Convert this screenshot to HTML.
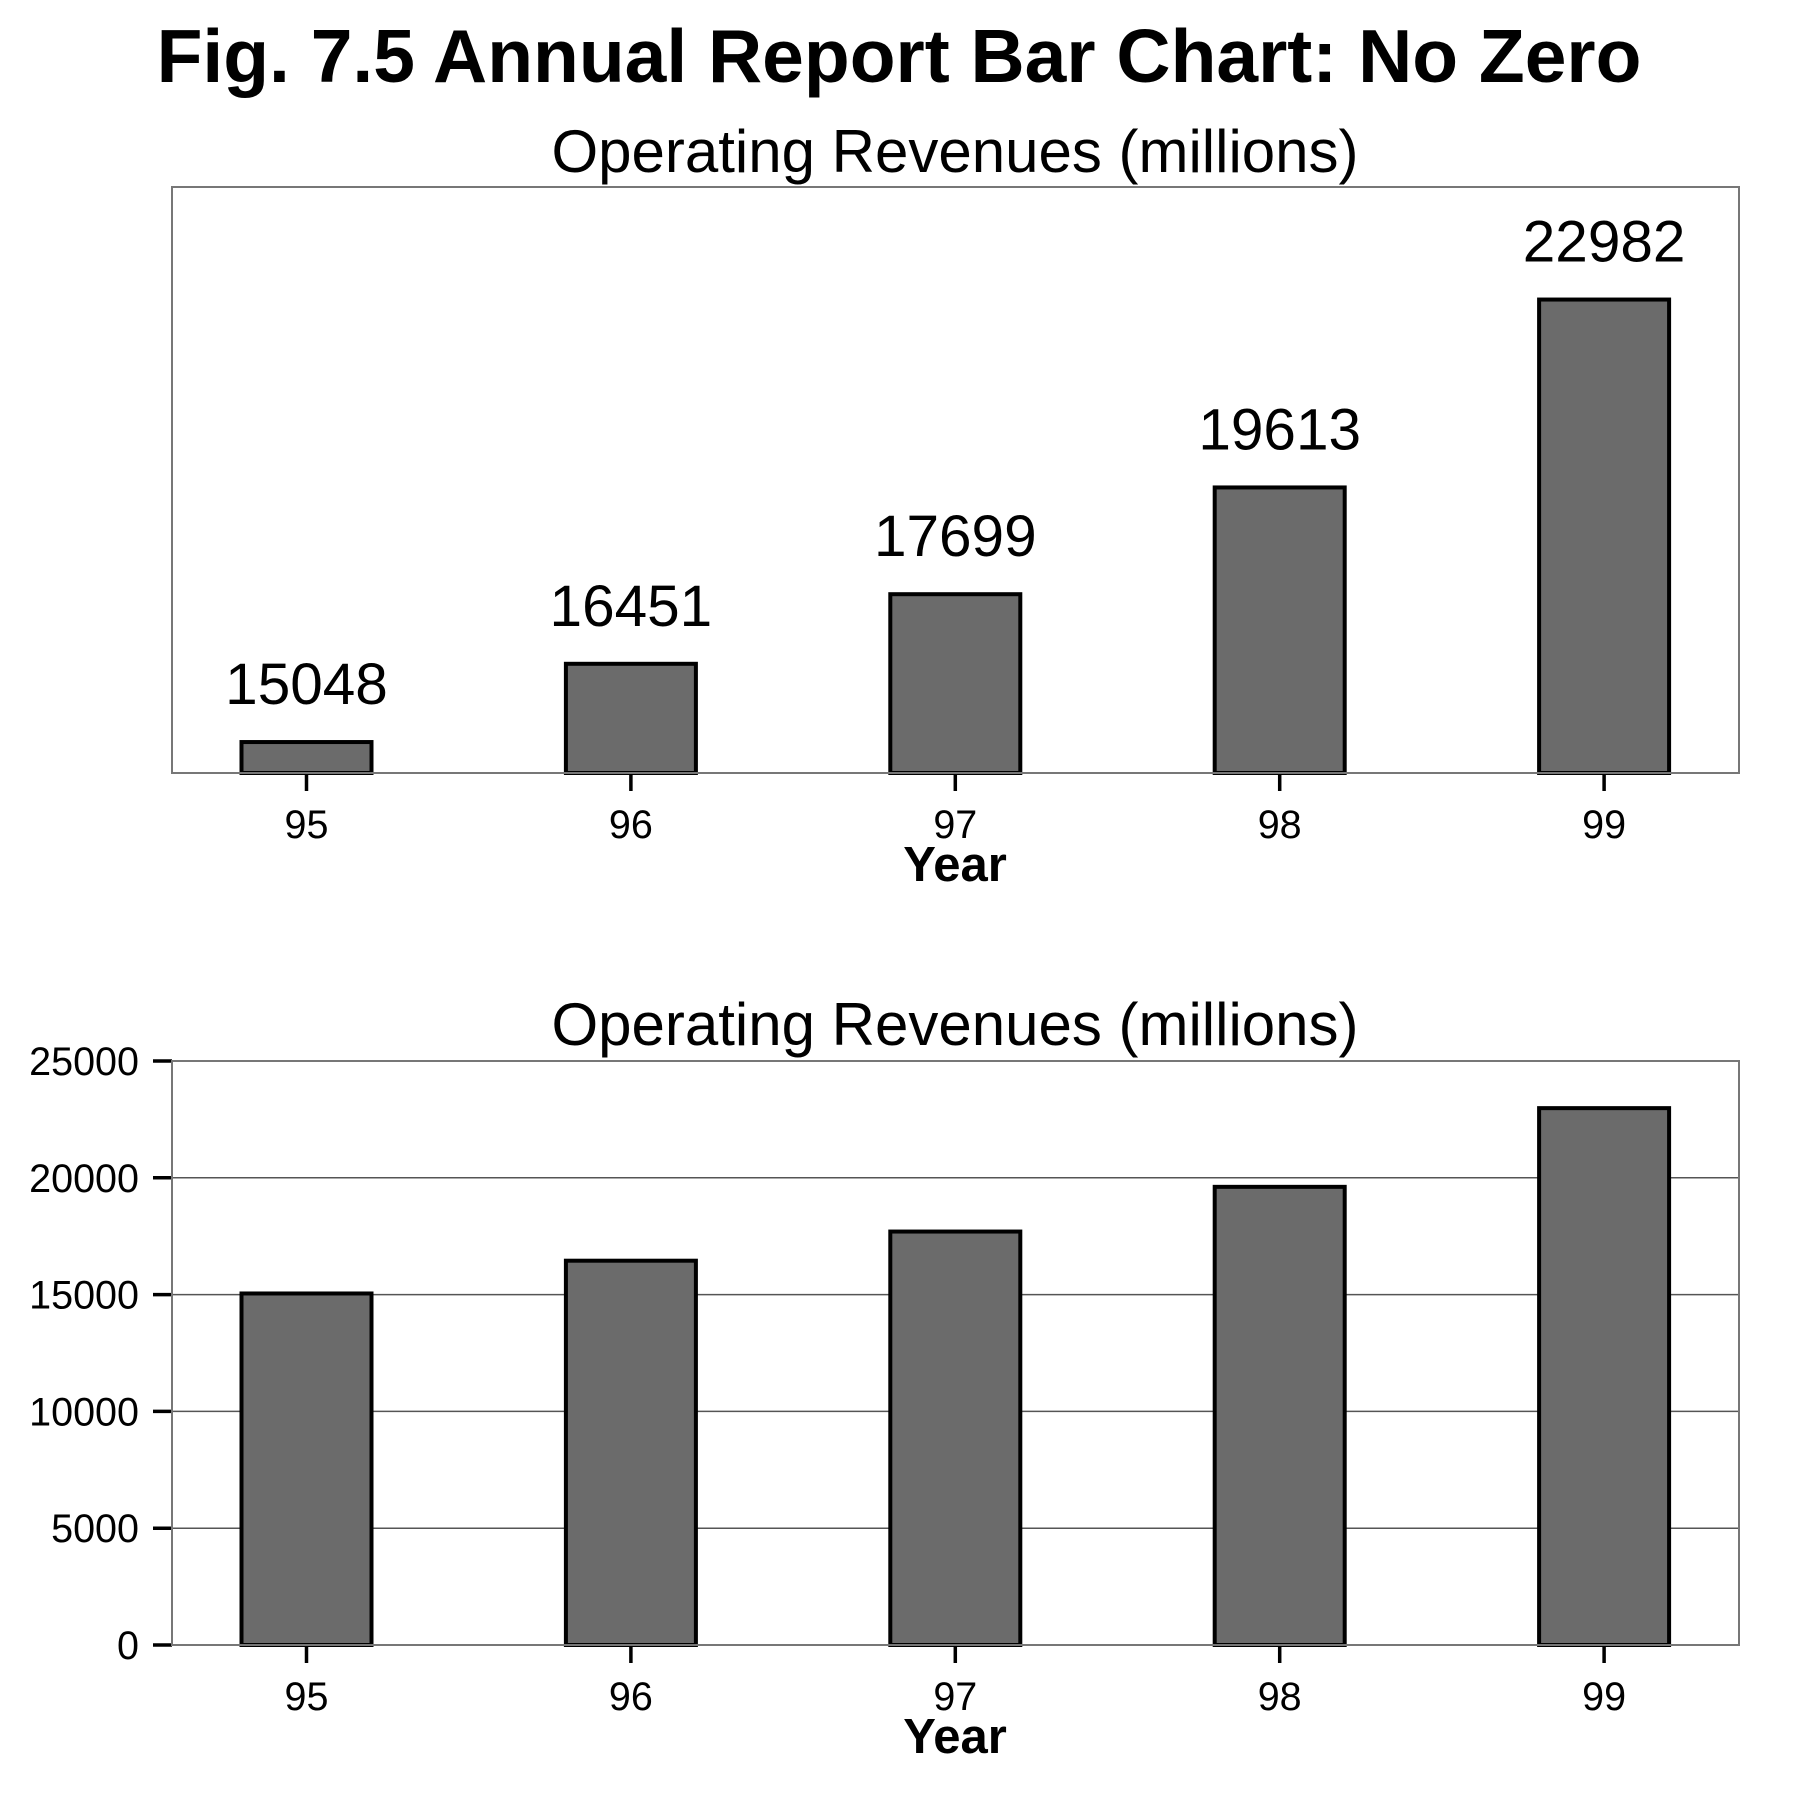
<!DOCTYPE html>
<html><head><meta charset="utf-8"><style>
body{margin:0;background:#fff}
svg{display:block}
text{font-family:"Liberation Sans",Arial,sans-serif;fill:#000}
</style></head><body>
<svg id="chart" width="1800" height="1800" viewBox="0 0 1800 1800" xmlns="http://www.w3.org/2000/svg">
<text x="899" y="82" font-size="75" font-weight="bold" text-anchor="middle">Fig. 7.5 Annual Report Bar Chart: No Zero</text>
<g id="top"></g>
<g id="bot"></g>
</svg>
<script>
const categories = ["95","96","97","98","99"];
const revenues = [15048,16451,17699,19613,22982];
const yTicks = [0,5000,10000,15000,20000,25000];
const yTickLabels = ["0","5000","10000","15000","20000","25000"];

const NS="http://www.w3.org/2000/svg";
const L=172,R=1739,X0=306.5,DX=324.4,BW=130;
function xPos(i){return X0+i*DX;}
function mk(tag,attrs,parent){const e=document.createElementNS(NS,tag);for(const k in attrs)e.setAttribute(k,attrs[k]);parent.appendChild(e);return e;}

function panel(g,top,bottom,ymin,ymax,withAxis,subY){
  const yPos=v=>bottom-(v-ymin)/(ymax-ymin)*(bottom-top);
  const st=mk('text',{x:955,y:subY,'font-size':60,'text-anchor':'middle'},g);
  
  
  st.textContent='Operating Revenues (millions)';
  if(withAxis){
    yTicks.forEach((t,i)=>{
      const y=yPos(t);
      if(i>0&&i<yTicks.length-1){const gl=mk('line',{x1:L,x2:R,y1:y,y2:y,stroke:'#555','stroke-width':1.5},g);
        
        }
      const tk=mk('line',{x1:153,x2:172,y1:y,y2:y,stroke:'#000','stroke-width':3.5},g);
      
      
      const tl=mk('text',{x:139,y:y+14,'font-size':39.5,'text-anchor':'end'},g);
      
      
      tl.textContent=yTickLabels[i];
    });
  }
  categories.forEach((c,i)=>{
    const v=revenues[i],x=xPos(i),yt=yPos(v);
    const b=mk('rect',{x:x-BW/2,y:yt,width:BW,height:bottom-yt,fill:'#6b6b6b',stroke:'#000','stroke-width':4},g);
    
    
    if(!withAxis){
      const vl=mk('text',{x:x,y:yt-38,'font-size':58.5,'text-anchor':'middle'},g);
      
      
      vl.textContent=String(v);
    }
    const tk=mk('line',{x1:x,x2:x,y1:bottom,y2:bottom+18,stroke:'#000','stroke-width':3.5},g);
    
    
    const xl=mk('text',{x:x,y:bottom+65,'font-size':39.5,'text-anchor':'middle'},g);
    
    
    xl.textContent=c;
  });
  const fr=mk('rect',{x:L,y:top,width:R-L,height:bottom-top,fill:'none',stroke:'#777','stroke-width':2},g);
  
  
  const xt=mk('text',{x:955,y:bottom+108,'font-size':49,'font-weight':'bold','text-anchor':'middle'},g);
  
  
  xt.textContent='Year';
}
panel(document.getElementById('top'),187,773,14493,25000,false,172);
panel(document.getElementById('bot'),1061,1645,0,25000,true,1045);
</script>
</body></html>
